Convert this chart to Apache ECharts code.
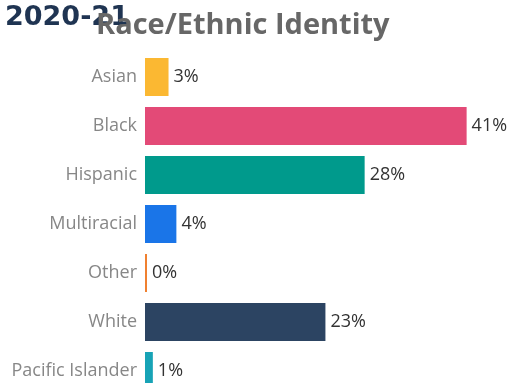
<!DOCTYPE html>
<html>
<head>
<meta charset="utf-8">
<script src="https://cdn.jsdelivr.net/npm/echarts@6/dist/echarts.min.js"></script>
<style>
  html, body { margin: 0; padding: 0; background: #fff; }
  #chart { width: 509px; height: 383px; }
</style>
</head>
<body>
<div id="chart"></div>
<script>
// Share of students by race/ethnic identity, 2020-21 (percent)
const categories = ['Asian', 'Black', 'Hispanic', 'Multiracial', 'Other', 'White', 'Pacific Islander'];
const shares = [3, 41, 28, 4, 0, 23, 1];
const barColors = ['#FBB832', '#E34A77', '#009A8C', '#1A75E8', '#F08030', '#2C4462', '#17A3B6'];

const chart = echarts.init(document.getElementById('chart'));

chart.setOption({
  animation: false,
  title: [
    {
      text: '2020-21',
      left: 0,
      top: -1,
      z: 1,
      textStyle: { fontFamily: 'DejaVu Sans', fontWeight: 'bold', fontSize: 27, color: '#1F3452' }
    },
    {
      text: 'Race/Ethnic Identity',
      left: 91,
      top: 6,
      z: 2,
      textStyle: { fontFamily: 'Open Sans', fontWeight: 'bold', fontSize: 29, color: '#676767' }
    }
  ],
  // the last row runs past the bottom edge, so the grid is not kept inside the canvas
  grid: { left: 145, width: 353, top: 52.5, height: 343, outerBoundsMode: 'none', containLabel: false },
  xAxis: {
    type: 'value',
    min: 0,
    max: 45,
    show: false
  },
  yAxis: {
    type: 'category',
    data: categories,
    inverse: true,
    axisLine: { show: false },
    axisTick: { show: false },
    splitLine: { show: false },
    axisLabel: { fontFamily: 'Open Sans', fontSize: 18, color: '#878787', margin: 8 }
  },
  series: [{
    type: 'bar',
    data: shares.map((v, i) => ({ value: v, itemStyle: { color: barColors[i] } })),
    barWidth: 38,
    barMinHeight: 2,
    label: {
      show: true,
      position: 'right',
      distance: 5,
      formatter: '{c}%',
      fontFamily: 'Open Sans',
      fontSize: 18,
      color: '#333333'
    }
  }]
});
</script>
</body>
</html>
